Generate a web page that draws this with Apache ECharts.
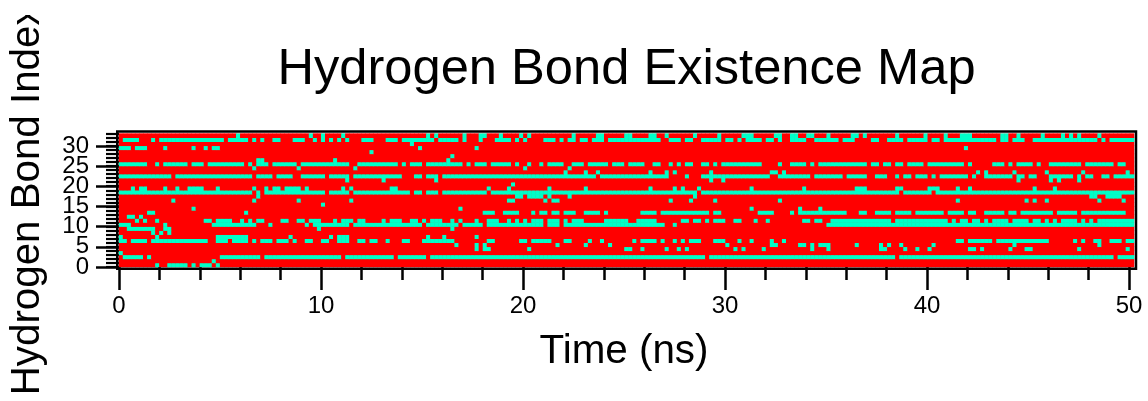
<!DOCTYPE html>
<html>
<head>
<meta charset="utf-8">
<title>Hydrogen Bond Existence Map</title>
<script src="https://cdn.jsdelivr.net/npm/echarts@6/dist/echarts.min.js"></script>
<style>
  html, body { margin: 0; padding: 0; background: #fff; }
  #chart { width: 1148px; height: 401px; }
</style>
</head>
<body>
<div id="chart"></div>
<script>
// one frame every 0.2 ns, 251 frames, 33 hydrogen bonds
var frameCount = 251;
var bondCount = 33;
var frameStep = 0.2;
// two lists because the labels sit too close for one axis to keep them all
var bondTicksA = [0, 10, 20, 30];
var bondTicksB = [5, 15, 25];

// [first frame, last frame] stretches where the bond exists, one list per bond
var bond0 = [[9,9],[12,16],[18,18],[20,22],[24,24]];
var bond1 = [[23,23]];
var bond2 = [[1,5],[7,7],[25,34],[36,54],[56,67],[69,75],[77,144],[146,191],[193,245],[247,250]];
var bond3 = [[0,0]];
var bond4 = [[88,88],[90,91],[101,101],[125,126],[129,129],[135,135],[138,138],[140,140],[152,152],[154,154],[159,159],[171,171],[175,175],[188,189],[194,194],[197,197],[200,200],[210,211],[213,213],[220,220],[224,225],[237,237],[249,249]];
var bond5 = [[83,83],[88,88],[90,90],[108,108],[115,115],[121,121],[150,150],[161,162],[168,169],[171,171],[173,175],[182,182],[188,188],[190,190],[193,193],[201,201],[221,221],[242,242]];
var bond6 = [[0,1],[3,6],[8,21],[24,26],[28,31],[33,33],[35,37],[39,41],[43,43],[46,47],[50,51],[54,56],[59,60],[62,63],[66,66],[70,71],[75,82],[91,92],[99,100],[102,106],[110,111],[116,116],[119,119],[127,127],[129,132],[134,134],[137,137],[139,139],[141,143],[147,149],[153,153],[156,156],[161,161],[164,164],[207,208],[210,215],[217,229],[236,236],[238,238],[241,242],[245,247],[249,250]];
var bond7 = [[0,0],[9,9],[24,31],[42,42],[52,52],[54,56],[76,76],[80,80],[88,88]];
var bond8 = [[8,8],[10,10],[12,12]];
var bond9 = [[2,8],[11,12],[49,49],[82,82]];
var bond10 = [[0,2],[11,11],[23,33],[37,37],[46,46],[48,56],[58,74],[76,83],[85,89],[91,104],[106,108],[110,134],[137,137],[175,250]];
var bond11 = [[4,4],[6,6],[9,9],[21,22],[24,27],[30,30],[32,32],[34,35],[40,41],[44,45],[47,49],[53,53],[55,57],[59,60],[65,65],[67,69],[72,73],[75,75],[77,79],[82,82],[84,84],[88,88],[91,93],[96,96],[98,98],[100,100],[102,104],[106,108],[110,110],[112,114],[120,125],[128,132],[139,140],[142,143],[145,145],[147,149],[152,153],[157,157],[160,160],[169,170],[172,173],[176,190],[192,204],[206,206],[208,209],[211,212],[214,214],[216,219],[221,224],[226,227],[229,229],[231,231],[233,236],[238,238],[240,240],[242,250]];
var bond12 = [[2,3],[5,5]];
var bond13 = [[7,8],[31,31],[90,92],[95,98],[102,102],[104,105],[107,108],[110,112],[115,118],[120,120],[129,132],[134,145],[147,148],[158,161],[166,166],[168,179],[183,184],[187,190],[192,195],[197,203],[205,208],[210,211],[214,218],[220,221],[223,230],[232,236],[238,248]];
var bond14 = [[18,18],[84,84],[156,156],[168,168],[173,173]];
var bond15 = [[50,50]];
var bond16 = [[13,13],[33,33],[44,44],[57,57],[96,97],[105,105],[107,108],[136,136],[141,141],[147,147],[163,163],[207,207],[224,224],[226,226],[229,229],[242,242],[248,248]];
var bond17 = [[34,34],[98,99],[101,104],[106,106],[111,111],[142,142],[240,241],[244,247]];
var bond18 = [[0,32],[34,34],[36,50],[52,56],[58,71],[73,74],[76,78],[80,90],[92,142],[144,192],[194,200],[202,250]];
var bond19 = [[3,3],[5,6],[11,11],[14,14],[17,20],[24,24],[33,33],[36,36],[38,39],[41,44],[46,46],[55,55],[57,57],[67,68],[91,91],[96,96],[106,106],[115,115],[131,131],[137,137],[139,139],[143,143],[156,156],[169,169],[182,184],[192,193],[200,202],[207,207],[210,210],[226,226],[231,231]];
var bond20 = [[97,97]];
var bond21 = [[56,56],[65,65],[78,78],[146,146],[149,149],[222,222],[230,230],[232,232],[237,237]];
var bond22 = [[0,12],[14,32],[34,37],[39,42],[45,50],[52,56],[58,69],[73,74],[76,78],[80,114],[115,117],[119,135],[140,140],[144,160],[163,170],[172,178],[180,184],[187,189],[192,192],[194,195],[197,199],[201,201],[203,209],[211,211],[214,220],[222,223],[225,226],[230,235],[237,237],[239,240],[243,244],[246,250]];
var bond23 = [[110,110],[115,115],[118,118],[131,131],[135,135],[137,137],[146,146],[161,162],[164,164],[212,212],[214,214],[221,221],[229,229],[238,238],[249,249]];
var bond24 = [[33,33],[44,44],[58,58],[100,100],[111,111]];
var bond25 = [[0,6],[9,9],[11,16],[18,20],[22,30],[32,32],[34,36],[38,43],[45,56],[59,68],[70,70],[72,74],[76,84],[86,86],[88,90],[92,96],[98,98],[101,101],[104,104],[106,109],[112,114],[116,120],[122,124],[126,129],[132,133],[136,136],[138,138],[140,141],[144,145],[147,147],[149,158],[163,163],[166,169],[171,171],[173,184],[186,187],[189,190],[192,193],[195,198],[200,208],[210,210],[216,218],[220,220],[222,225],[227,227],[230,237],[239,245],[247,248]];
var bond26 = [[34,35],[53,53],[81,81]];
var bond27 = [[82,82]];
var bond28 = [[62,62]];
var bond29 = [[0,2],[4,6],[11,11],[18,18],[21,21],[23,24],[74,74],[88,88],[209,209]];
var bond30 = [[72,72]];
var bond31 = [[1,4],[8,8],[10,25],[27,31],[33,33],[35,35],[38,39],[43,45],[48,48],[50,50],[52,52],[54,54],[56,56],[60,62],[66,68],[70,77],[79,83],[85,85],[89,89],[93,96],[98,98],[100,100],[105,107],[109,109],[111,112],[114,115],[117,119],[121,133],[136,138],[140,141],[144,148],[150,151],[153,153],[155,158],[160,161],[163,163],[166,169],[172,177],[179,181],[186,187],[190,193],[195,199],[201,202],[204,216],[218,219],[221,223],[226,241],[243,243],[245,250]];
var bond32 = [[29,29],[47,47],[50,50],[55,55],[76,76],[78,78],[85,85],[89,90],[94,94],[99,99],[101,101],[112,112],[118,119],[125,126],[131,132],[135,135],[142,142],[148,148],[154,156],[162,163],[166,167],[170,171],[175,175],[181,182],[184,184],[192,192],[199,199],[204,204],[208,210],[218,219],[222,222],[228,228],[233,233],[235,235],[237,237],[242,242]];

var bonds = [bond0, bond1, bond2, bond3, bond4, bond5, bond6, bond7, bond8, bond9, bond10,
  bond11, bond12, bond13, bond14, bond15, bond16, bond17, bond18, bond19, bond20, bond21,
  bond22, bond23, bond24, bond25, bond26, bond27, bond28, bond29, bond30, bond31, bond32];

var frames = [];
for (var f = 0; f < frameCount; f++) frames.push((f * frameStep).toFixed(1));
var bondIds = [];
for (var b = 0; b < bondCount; b++) bondIds.push(String(b));

var cells = [];
bonds.forEach(function (runs, b) {
  var present = new Array(frameCount).fill(0);
  runs.forEach(function (r) {
    for (var i = r[0]; i <= r[1]; i++) present[i] = 1;
  });
  present.forEach(function (v, f) { cells.push([f, b, v]); });
});

var font = '"Liberation Sans", Arial, sans-serif';

function numberedBondAxis(ticks) {
  return {
    type: 'value', gridIndex: 1, position: 'left', min: 0, max: 30,
    axisLine: { show: false },
    splitLine: { show: false },
    axisTick: { customValues: ticks, length: 23, lineStyle: { color: '#000', width: 2.5 } },
    axisLabel: { margin: 30, fontFamily: font, fontSize: 24, color: '#000', customValues: ticks, showMinLabel: true, showMaxLabel: true }
  };
}

var myChart = echarts.init(document.getElementById('chart'), null, { renderer: 'canvas' });
myChart.setOption({
  animation: false,
  title: {
    text: 'Hydrogen Bond Existence Map',
    left: 621.5,
    top: 40,
    textAlign: 'center',
    textStyle: { fontFamily: font, fontSize: 50.65, fontWeight: 'normal', color: '#000' }
  },
  // grid 0 holds the cells, grid 1 the numbered scales (0-50 ns, 0-30)
  grid: [
    { left: 119, top: 133.7, width: 1015, height: 133.3, outerBoundsMode: 'none', show: true, backgroundColor: '#ff0000', borderWidth: 0 },
    { left: 119, top: 146, width: 1010, height: 121, outerBoundsMode: 'none' }
  ],
  xAxis: [
    { type: 'category', gridIndex: 0, data: frames, show: false },
    {
      type: 'value', gridIndex: 1, position: 'bottom', min: 0, max: 50, interval: 10,
      name: 'Time (ns)', nameLocation: 'middle', nameGap: 65,
      nameTextStyle: { fontFamily: font, fontSize: 40.4, color: '#000' },
      axisLine: { show: false },
      splitLine: { show: false },
      axisTick: { length: 23, lineStyle: { color: '#000', width: 2.5 } },
      minorTick: { show: true, splitNumber: 5, length: 13, lineStyle: { color: '#000', width: 2.5 } },
      axisLabel: { margin: 27, fontFamily: font, fontSize: 24, color: '#000', showMinLabel: true, showMaxLabel: true }
    }
  ],
  yAxis: [
    { type: 'category', gridIndex: 0, data: bondIds, show: false },
    {
      type: 'value', gridIndex: 0, position: 'left', min: 0, max: bondCount, interval: 1,
      name: 'Hydrogen Bond Index', nameLocation: 'middle', nameGap: 71,
      nameTextStyle: { fontFamily: font, fontSize: 40.3, color: '#000' },
      axisLine: { show: false },
      splitLine: { show: false },
      axisLabel: { show: true, formatter: function () { return ''; } },
      axisTick: { show: true, interval: 0, length: 13, lineStyle: { color: '#000', width: 2.2 } }
    },
    numberedBondAxis(bondTicksA),
    numberedBondAxis(bondTicksB)
  ],
  visualMap: { show: false, type: 'continuous', min: 0, max: 1, seriesIndex: 0, inRange: { color: ['#ff0000', '#00ffc8'] } },
  series: [
    {
      type: 'heatmap',
      xAxisIndex: 0,
      yAxisIndex: 0,
      data: cells,
      progressive: 0,
      silent: true,
      emphasis: { disabled: true }
    }
  ],
  graphic: [
    // frame round the map, and the blank strip that cuts the axis title at the top
    { type: 'rect', z: 100, silent: true, shape: { x: 117.25, y: 131.5, width: 1018.75, height: 137.3 }, style: { fill: 'none', stroke: '#000', lineWidth: 2.5 } },
    { type: 'rect', z: 100, silent: true, shape: { x: 0, y: 0, width: 70, height: 15 }, style: { fill: '#fff' } }
  ]
});
</script>
</body>
</html>
